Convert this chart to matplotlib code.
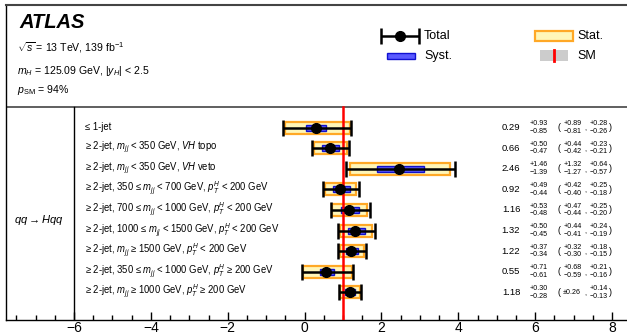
import matplotlib
matplotlib.use("Agg")
import matplotlib.pyplot as plt
from matplotlib.patches import Rectangle

plt.rcParams['font.family'] = ['Liberation Sans', 'DejaVu Sans']
plt.rcParams['mathtext.fontset'] = 'custom'
plt.rcParams['mathtext.rm'] = 'Liberation Sans'
plt.rcParams['mathtext.it'] = 'Liberation Sans:italic'
plt.rcParams['mathtext.bf'] = 'Liberation Sans:bold'

# STXS bins for qq -> Hqq
labels = [
    "≤ 1-jet",
    "≥ 2-jet, $m_{jj}$ < 350 GeV, $VH$ topo",
    "≥ 2-jet, $m_{jj}$ < 350 GeV, $VH$ veto",
    "≥ 2-jet, 350 ≤ $m_{jj}$ < 700 GeV, $p_T^H$ < 200 GeV",
    "≥ 2-jet, 700 ≤ $m_{jj}$ < 1000 GeV, $p_T^H$ < 200 GeV",
    "≥ 2-jet, 1000 ≤ $m_{jj}$ < 1500 GeV, $p_T^H$ < 200 GeV",
    "≥ 2-jet, $m_{jj}$ ≥ 1500 GeV, $p_T^H$ < 200 GeV",
    "≥ 2-jet, 350 ≤ $m_{jj}$ < 1000 GeV, $p_T^H$ ≥ 200 GeV",
    "≥ 2-jet, $m_{jj}$ ≥ 1000 GeV, $p_T^H$ ≥ 200 GeV",
]
mu = [0.29, 0.66, 2.46, 0.92, 1.16, 1.32, 1.22, 0.55, 1.18]
tot_up = [0.93, 0.50, 1.46, 0.49, 0.53, 0.50, 0.37, 0.71, 0.30]
tot_dn = [0.85, 0.47, 1.39, 0.44, 0.48, 0.45, 0.34, 0.61, 0.28]
stat_up = [0.89, 0.44, 1.32, 0.42, 0.47, 0.44, 0.32, 0.68, 0.26]
stat_dn = [0.81, 0.42, 1.27, 0.40, 0.44, 0.41, 0.30, 0.59, 0.26]
syst_up = [0.28, 0.23, 0.64, 0.25, 0.25, 0.24, 0.18, 0.21, 0.14]
syst_dn = [0.26, 0.21, 0.57, 0.18, 0.20, 0.19, 0.15, 0.16, 0.13]
group_label = r"$qq\rightarrow Hqq$"
sm_value = 1.0
xticks = [-6, -4, -2, 0, 2, 4, 6, 8]

W, H = 627, 336
fig = plt.figure(figsize=(W / 100, H / 100), dpi=100)
# axes spans pixel x 6..627, pixel y 5..320 ; y data == pixel row from top
ax = fig.add_axes([6 / W, 16 / H, 621 / W, 315 / H])
scale = 538 / 14.0  # px per unit
xmin = -6 - 68 / scale
xmax = xmin + 621 / scale
ax.set_xlim(xmin, xmax)
ax.set_ylim(320, 5)


def px(p):
    return xmin + (p - 6) / scale


stat_fc = '#fff6b8'
stat_ec = '#ffa826'
syst_fc = '#4848ff'
syst_ec = '#0000cc'
efs = 5.1  # small error font

y0, dy = 127.5, 20.6
for i in range(len(mu)):
    y = y0 + i * dy
    ax.add_patch(Rectangle((mu[i] - stat_dn[i], y - 6), stat_up[i] + stat_dn[i], 12,
                           facecolor=stat_fc, edgecolor=stat_ec, lw=1.6, zorder=2))
    ax.add_patch(Rectangle((mu[i] - syst_dn[i], y - 3), syst_up[i] + syst_dn[i], 6,
                           facecolor=syst_fc, edgecolor=syst_ec, lw=1.0, alpha=0.9, zorder=3))
    ax.errorbar(mu[i], y, xerr=[[tot_dn[i]], [tot_up[i]]], fmt='o', color='black',
                ms=7, lw=1.8, capsize=5.5, capthick=1.8, zorder=4)
    ax.text(px(85), y, labels[i], fontsize=6.85, va='center', ha='left')

    # numbers on the right
    ax.text(px(511), y, f"{mu[i]:.2f}", fontsize=6.8, va='center', ha='center')
    ax.text(px(539), y - 3.8, f"+{tot_up[i]:.2f}", fontsize=efs, va='center', ha='center')
    ax.text(px(539), y + 3.8, f"\u2212{tot_dn[i]:.2f}", fontsize=efs, va='center', ha='center')
    ax.text(px(559), y, "(", fontsize=6.5, va='center', ha='center')
    if stat_up[i] == stat_dn[i]:
        ax.text(px(572), y, f"±{stat_up[i]:.2f}", fontsize=efs, va='center', ha='center')
    else:
        ax.text(px(573), y - 3.8, f"+{stat_up[i]:.2f}", fontsize=efs, va='center', ha='center')
        ax.text(px(573), y + 3.8, f"\u2212{stat_dn[i]:.2f}", fontsize=efs, va='center', ha='center')
    ax.text(px(585), y + 1.5, ",", fontsize=5, va='center', ha='center')
    ax.text(px(599), y - 3.8, f"+{syst_up[i]:.2f}", fontsize=efs, va='center', ha='center')
    ax.text(px(599), y + 3.8, f"\u2212{syst_dn[i]:.2f}", fontsize=efs, va='center', ha='center')
    ax.text(px(610), y, ")", fontsize=6.5, va='center', ha='center')

# SM line and dividers
ax.plot([sm_value, sm_value], [107, 320], color='red', lw=1.8, zorder=3)
ax.plot([xmin, xmax], [107, 107], color='#444444', lw=1.2)
ax.plot([-6, -6], [107, 320], color='black', lw=1.0)
ax.text(px(39), y0 + 4 * dy + 10, group_label, fontsize=8, ha='center', va='center')

# header text
ax.text(px(19), 22, "ATLAS", fontsize=14.5, fontweight='bold', fontstyle='italic', va='center')
ax.text(px(17), 48, r"$\sqrt{s}$ = 13 TeV, 139 fb$^{-1}$", fontsize=7.6, va='center')
ax.text(px(17), 71, r"$m_H$ = 125.09 GeV, |$y_H$| < 2.5", fontsize=7.6, va='center')
ax.text(px(17), 90, r"$p_{\rm SM}$ = 94%", fontsize=7.6, va='center')

# legend
ax.errorbar(px(400), 36, xerr=px(419) - px(400), fmt='o', color='black', ms=7,
            lw=1.8, capsize=5.5, capthick=1.8)
ax.text(px(424), 36, "Total", fontsize=9, va='center')
ax.add_patch(Rectangle((px(387), 53), px(415) - px(387), 6, facecolor=syst_fc,
                       edgecolor=syst_ec, lw=1.0, alpha=0.9))
ax.text(px(424), 56, "Syst.", fontsize=9, va='center')
ax.add_patch(Rectangle((px(535), 31), px(573) - px(535), 10, facecolor=stat_fc,
                       edgecolor=stat_ec, lw=1.6))
ax.text(px(577), 36, "Stat.", fontsize=9, va='center')
ax.add_patch(Rectangle((px(540), 50), px(568) - px(540), 11, facecolor='#cccccc',
                       edgecolor='none'))
ax.plot([px(554), px(554)], [50, 61], color='red', lw=2)
ax.text(px(577), 56, "SM", fontsize=9, va='center')

# axes styling
ax.spines['right'].set_visible(False)
ax.spines['top'].set_color('#444444')
ax.spines['top'].set_linewidth(1.5)
ax.spines['left'].set_linewidth(1.0)
ax.spines['bottom'].set_linewidth(1.0)
ax.set_yticks([])
ax.set_xticks(xticks)
ax.set_xticklabels([str(t).replace('-', '\u2212') for t in xticks])
ax.set_xticks([t / 2 for t in range(-15, 17) if t % 4 != 0], minor=True)
ax.tick_params(axis='x', which='major', direction='in', length=6, width=1, labelsize=10, pad=1)
ax.tick_params(axis='x', which='minor', direction='in', length=3.5, width=1)

fig.savefig("out.png", dpi=100)
